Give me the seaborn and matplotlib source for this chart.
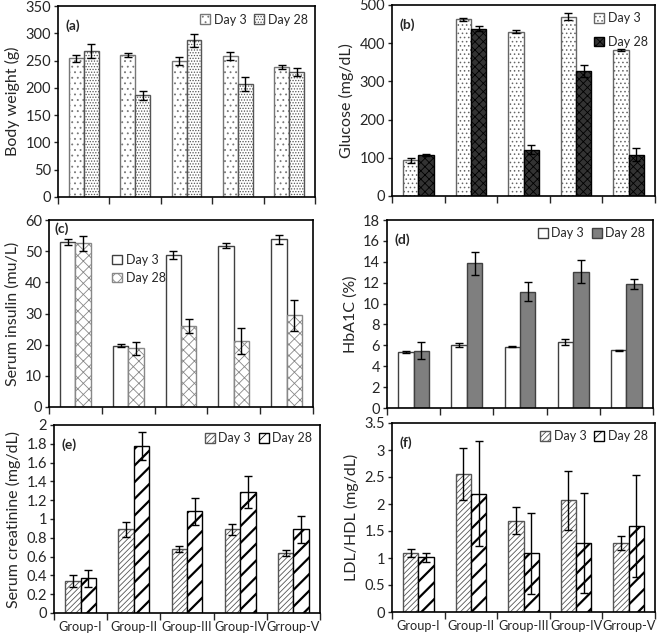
import numpy as np
import pandas as pd
import seaborn as sns
import matplotlib.pyplot as plt
import matplotlib.patches as mpatches

groups = ['Group-I', 'Group-II', 'Group-III', 'Group-IV', 'Grroup-V']
days = ['Day 3', 'Day 28']

# (a) body weight
bw_d3 = [254, 260, 249, 258, 238]
bw_d3_err = [6, 3, 7, 7, 4]
bw_d28 = [268, 186, 287, 207, 229]
bw_d28_err = [13, 9, 12, 12, 8]

# (b) glucose
glu_d3 = [93, 463, 430, 469, 382]
glu_d3_err = [7, 4, 4, 9, 2]
glu_d28 = [107, 438, 121, 328, 108]
glu_d28_err = [2, 6, 12, 16, 17]

# (c) serum insulin
ins_d3 = [53.0, 19.7, 48.8, 51.7, 53.8]
ins_d3_err = [1.0, 0.5, 1.3, 0.8, 1.4]
ins_d28 = [52.5, 18.8, 25.9, 21.2, 29.4]
ins_d28_err = [2.3, 2.2, 2.2, 4.2, 5.0]

# (d) HbA1C
hb_d3 = [5.35, 6.05, 5.85, 6.35, 5.55]
hb_d3_err = [0.1, 0.2, 0.05, 0.3, 0.05]
hb_d28 = [5.5, 13.85, 11.15, 13.05, 11.85]
hb_d28_err = [0.8, 1.1, 0.9, 1.1, 0.5]

# (e) serum creatinine
cr_d3 = [0.34, 0.89, 0.68, 0.89, 0.64]
cr_d3_err = [0.06, 0.08, 0.03, 0.06, 0.03]
cr_d28 = [0.37, 1.78, 1.08, 1.29, 0.89]
cr_d28_err = [0.09, 0.15, 0.14, 0.17, 0.14]

# (f) LDL/HDL
ldl_d3 = [1.09, 2.55, 1.69, 2.07, 1.28]
ldl_d3_err = [0.08, 0.48, 0.25, 0.55, 0.13]
ldl_d28 = [1.01, 2.19, 1.09, 1.28, 1.59]
ldl_d28_err = [0.09, 0.97, 0.75, 0.93, 0.95]

sns.set_style('ticks')
plt.rcParams['font.family'] = ['Lato', 'DejaVu Sans']
plt.rcParams['hatch.linewidth'] = 0.6

fig = plt.figure(figsize=(6.6, 6.36), dpi=100)

W, H = 660, 636


def rect(l, r, t, b):
    return [l / W, 1 - b / H, (r - l) / W, (b - t) / H]


def panel(box, d3, e3, d28, e28, ymax, ystep, ylabel, tag, styles,
          leg_kw, tag_pos, xlabels=False):
    ax = fig.add_axes(box)
    df = pd.DataFrame({'Group': groups * 2,
                       'Day': [days[0]] * 5 + [days[1]] * 5,
                       'Value': list(d3) + list(d28)})
    sns.barplot(data=df, x='Group', y='Value', hue='Day', order=groups,
                hue_order=days, width=0.58, gap=0, errorbar=None,
                legend=False, ax=ax, linewidth=1)
    for cont, st, err in zip(ax.containers, styles, [e3, e28]):
        xs, ys = [], []
        for bar in cont:
            bar.set_facecolor(st['fc'])
            bar.set_edgecolor(st['ec'])
            bar.set_hatch(st['hatch'])
            if hasattr(bar, 'set_hatch_linewidth'):
                bar.set_hatch_linewidth(st.get('hlw', 0.6))
            xs.append(bar.get_x() + bar.get_width() / 2)
            ys.append(bar.get_height())
        ax.errorbar(xs, ys, yerr=err, fmt='none', ecolor='black',
                    elinewidth=1, capsize=2.8, capthick=1, zorder=5)
    ax.set_xlim(-0.5, 4.5)
    ax.set_ylim(0, ymax)
    yt = np.arange(0, ymax + ystep / 2, ystep)
    ax.set_yticks(yt)
    ax.set_yticklabels([f'{v:g}' for v in np.round(yt, 2)])
    ax.set_xticks(np.arange(-0.5, 5, 1))
    ax.set_xticklabels([])
    ax.set_xticks(range(5), minor=True)
    if xlabels:
        ax.set_xticklabels(groups, minor=True, fontsize=9.2)
    ax.tick_params(axis='x', which='minor', length=0, pad=6)
    ax.tick_params(axis='x', which='major', length=5, width=1, direction='out')
    ax.tick_params(axis='y', length=3, width=1, labelsize=10.5, pad=2)
    ax.set_xlabel('')
    ax.set_ylabel(ylabel, fontsize=11.5)
    for s in ax.spines.values():
        s.set_visible(True)
        s.set_color('black')
        s.set_linewidth(1.2)
    ax.text(tag_pos[0], tag_pos[1], tag, transform=ax.transAxes,
            fontsize=10, fontweight='bold', va='top', ha='left')
    handles = [mpatches.Patch(facecolor=st['fc'], edgecolor=st['ec'],
                              hatch=st['hatch'], label=d)
               for st, d in zip(styles, days)]
    ax.legend(handles=handles, frameon=False, fontsize=9,
              handlelength=0.8, handleheight=0.8, handletextpad=0.3,
              borderaxespad=0.2, **leg_kw)
    return ax


edge = '#404040'
st_a = [dict(fc='white', ec='#777777', hatch='...'),
        dict(fc='white', ec='#555555', hatch='......')]
st_b = [dict(fc='white', ec='#666666', hatch='....'),
        dict(fc='#333333', ec='black', hatch='xxxx')]
st_c = [dict(fc='white', ec=edge, hatch=''),
        dict(fc='white', ec='#888888', hatch='xxx')]
st_d = [dict(fc='white', ec=edge, hatch=''),
        dict(fc='#7f7f7f', ec=edge, hatch='')]
st_e = [dict(fc='white', ec='#555555', hatch='//////', hlw=0.6),
        dict(fc='white', ec='black', hatch='//', hlw=1.6)]

panel(rect(58, 315, 6, 197), bw_d3, bw_d3_err, bw_d28, bw_d28_err,
      350, 50, 'Body weight (g)', '(a)', st_a,
      dict(loc='upper right', ncol=2, columnspacing=0.6), (0.03, 0.93))
panel(rect(392, 655, 5, 196), glu_d3, glu_d3_err, glu_d28, glu_d28_err,
      500, 100, 'Glucose (mg/dL)', '(b)', st_b,
      dict(loc='upper right', ncol=1, labelspacing=0.9), (0.03, 0.93))
panel(rect(49, 313, 220, 407), ins_d3, ins_d3_err, ins_d28, ins_d28_err,
      60, 10, 'Serum insulin (mu/L)', '(c)', st_c,
      dict(loc='upper left', bbox_to_anchor=(0.21, 0.86), ncol=1,
           labelspacing=0.5), (0.02, 0.99))
panel(rect(387, 653, 220, 408), hb_d3, hb_d3_err, hb_d28, hb_d28_err,
      18, 2, 'HbA1C (%)', '(d)', st_d,
      dict(loc='upper right', ncol=2, columnspacing=0.6), (0.03, 0.93))
panel(rect(54, 320, 425, 613), cr_d3, cr_d3_err, cr_d28, cr_d28_err,
      2, 0.2, 'Serum creatinine (mg/dL)', '(e)', st_e,
      dict(loc='upper right', ncol=2, columnspacing=0.6), (0.03, 0.93),
      xlabels=True)
panel(rect(392, 655, 423, 612), ldl_d3, ldl_d3_err, ldl_d28, ldl_d28_err,
      3.5, 0.5, 'LDL/HDL (mg/dL)', '(f)', st_e,
      dict(loc='upper right', ncol=2, columnspacing=0.6), (0.03, 0.93),
      xlabels=True)

fig.savefig('out.png', dpi=100)
